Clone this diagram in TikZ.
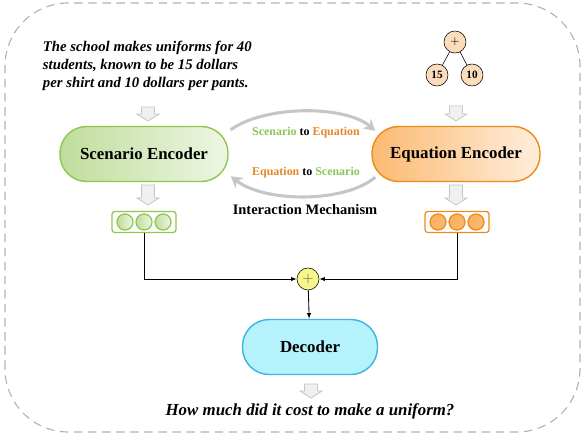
\documentclass[tikz,border=0pt]{standalone}
\usepackage{fontspec}
\setmainfont{Liberation Serif}
\usetikzlibrary{arrows.meta}

\definecolor{scengreen}{HTML}{8CC84B}
\definecolor{scenleft}{HTML}{BFDD9C}
\definecolor{scenright}{HTML}{EEF6E4}
\definecolor{scentext}{HTML}{8DC453}
\definecolor{eqorange}{HTML}{ED8A19}
\definecolor{eqleft}{HTML}{FBBA72}
\definecolor{eqright}{HTML}{FFEEDC}
\definecolor{eqtext}{HTML}{E4862B}
\definecolor{decblue}{HTML}{3BB4E6}
\definecolor{decfill}{HTML}{B5F2FB}
\definecolor{treefill}{HTML}{FCDDBB}
\definecolor{plusfill}{HTML}{F6F68A}

\tikzset{
    encoder/.style={draw, line width=1pt, rounded corners=19pt, minimum width=4.2cm,
        minimum height=1.375cm, font=\fontsize{12}{14}\selectfont\bfseries},
    pics/hollow/.style={code={
        \draw[gray!45, fill=gray!12, line width=0.6pt]
           (-6.5,0) -- (6.5,0) -- (6.5,-#1+7) -- (11,-#1+7) -- (0,-#1)
           -- (-11,-#1+7) -- (-6.5,-#1+7) -- cycle;}},
    vecbox/.style={draw, line width=0.9pt, rounded corners=2pt, fill=white,
        minimum width=1.6cm, minimum height=0.525cm},
    unit/.style={circle, draw, line width=0.9pt, minimum size=0.4cm, inner sep=0pt},
    treenode/.style={circle, draw, fill=treefill, minimum size=0.55cm, inner sep=0pt,
        font=\fontsize{8}{9}\selectfont\bfseries},
    swoosh/.style={gray!45, line width=2.2pt, -{Stealth[length=8pt,width=9pt]}},
    link/.style={-{Latex[length=4pt,width=3pt]}, line width=0.6pt}
}

\begin{document}
\begin{tikzpicture}[x=0.025cm, y=0.025cm]
    \useasboundingbox (0,0) rectangle (584,439);
    \draw[gray!60, line width=0.8pt, dash pattern=on 6pt off 4pt, rounded corners=45pt]
       (5,7) rectangle (580,436);

    \node[anchor=west, align=left, font=\fontsize{10.5}{12.8}\selectfont\bfseries\itshape]
       (problem) at (38,373) {The school makes uniforms for 40\\students, known to be 15 dollars\\per shirt and 10 dollars per pants.};

    \node[treenode] (root) at (455,397) {$+$};
    \node[treenode] (n15) at (437,364) {15};
    \node[treenode] (n10) at (472,364) {10};
    \draw (root) -- (n15);
    \draw (root) -- (n10);

    \pic at (148,332) {hollow=14};
    \pic at (456,333) {hollow=15};

    \node[encoder, draw=scengreen, left color=scenleft, right color=scenright] (scen) at (144,285) {Scenario Encoder};
    \node[encoder, draw=eqorange, left color=eqleft, right color=eqright] (eq) at (456,285) {Equation Encoder};

    \draw[swoosh] ([shift={(2,-4)}]scen.north east) .. controls (265,334) and (345,334) .. ([shift={(4,-5)}]eq.north west);
    \draw[swoosh] ([shift={(4,5)}]eq.south west) .. controls (345,236) and (265,236) .. ([shift={(2,6)}]scen.south east);
    \node[font=\fontsize{8.5}{10}\selectfont\bfseries] (s2e) at (306,306)
       {\textcolor{scentext}{Scenario} to \textcolor{eqtext}{Equation}};
    \node[font=\fontsize{8.5}{10}\selectfont\bfseries] (e2s) at (306,266)
       {\textcolor{eqtext}{Equation} to \textcolor{scentext}{Scenario}};
    \node[font=\fontsize{10.3}{12}\selectfont\bfseries] (mech) at (305,229) {Interaction Mechanism};

    \pic at (148,254) {hollow=20};
    \pic at (456,254) {hollow=20};

    \node[vecbox, draw=scengreen] (vs) at (144,217) {};
    \foreach \i/\dx in {1/-19,2/0,3/19}
       \node[unit, draw=scengreen, left color=scenleft, right color=scenright] (vs\i) at (144+\dx,217) {};
    \node[vecbox, draw=eqorange] (ve) at (457,217) {};
    \foreach \i/\dx in {1/-19,2/0,3/19}
       \node[unit, draw=eqorange, left color=eqleft!80!eqorange, right color=eqleft] (ve\i) at (457+\dx,217) {};

    \node[circle, draw, fill=plusfill, minimum size=0.55cm, inner sep=0pt] (plus) at (308,160)
       {\textcolor{gray!70!black}{$+$}};
    \draw[link] (vs.south) |- (plus.west);
    \draw[link] (ve.south) |- (plus.east);

    \node[encoder, minimum width=3.375cm, draw=decblue, fill=decfill] (dec) at (310,92) {Decoder};
    \draw[link] (plus) -- (dec);

    \pic at (311,55) {hollow=14};
    \node[font=\fontsize{12}{14}\selectfont\bfseries\itshape] (question) at (310,28)
       {How much did it cost to make a uniform?};
\end{tikzpicture}
\end{document}
